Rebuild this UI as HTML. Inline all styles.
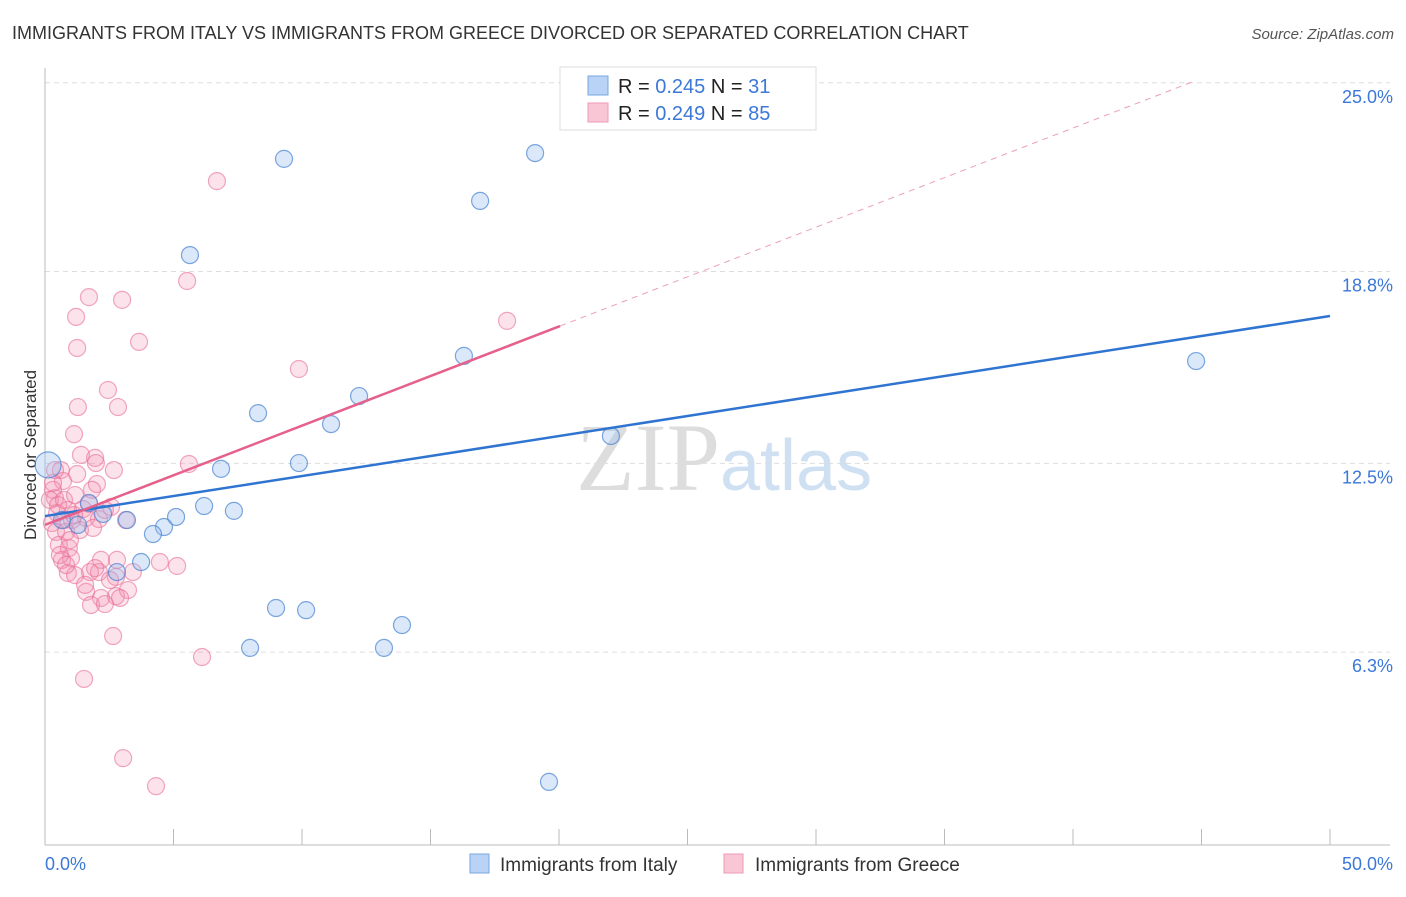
<!DOCTYPE html>
<html><head><meta charset="utf-8"><style>
body{margin:0;background:#fff;font-family:"Liberation Sans",sans-serif}
#wrap{position:relative;width:1406px;height:892px}
</style></head><body>
<div id="wrap">
<svg id="svg" width="1406" height="892" xmlns="http://www.w3.org/2000/svg">
<text x="12" y="39" font-size="18" fill="#333">IMMIGRANTS FROM ITALY VS IMMIGRANTS FROM GREECE DIVORCED OR SEPARATED CORRELATION CHART</text>
<text x="1394" y="39" font-size="15" fill="#555" font-style="italic" text-anchor="end">Source: ZipAtlas.com</text>
<text x="36" y="455" font-size="17" fill="#333" text-anchor="middle" transform="rotate(-90 36 455)">Divorced or Separated</text>
<text x="720" y="490" font-size="96" fill="#ddd" text-anchor="end" font-family="Liberation Serif">ZIP</text>
<text x="720" y="490" font-size="72" fill="#cfe0f3">atlas</text>
<g id="grid"></g><g id="axes"></g><g id="pts"></g><g id="lines"></g>
<rect x="560" y="67" width="256" height="63" fill="#fff" stroke="#ddd"/>
<rect x="588" y="76" width="20" height="19" fill="#b8d3f5" stroke="#7aa7e0"/>
<rect x="588" y="103" width="20" height="19" fill="#f9c6d6" stroke="#ee9ab5"/>
<text x="618" y="93" font-size="20" fill="#222">R = <tspan fill="#3b78d8">0.245</tspan>   N =  <tspan fill="#3b78d8">31</tspan></text>
<text x="618" y="120" font-size="20" fill="#222">R = <tspan fill="#3b78d8">0.249</tspan>   N = <tspan fill="#3b78d8">85</tspan></text>
<rect x="470" y="854" width="19" height="19" fill="#b8d3f5" stroke="#7aa7e0"/>
<text x="500" y="871" font-size="19" fill="#333">Immigrants from Italy</text>
<rect x="724" y="854" width="19" height="19" fill="#f9c6d6" stroke="#ee9ab5"/>
<text x="755" y="871" font-size="19" fill="#333">Immigrants from Greece</text>
</svg></div>
<script>
const yTicks=[25.0,18.8,12.5,6.3];
const yTickLabels=["25.0%","18.8%","12.5%","6.3%"];
const xTickLabels=["0.0%","50.0%"];
const italyX=[9.30,19.07,16.93,5.64,16.30,44.79,12.22,8.29,11.13,22.02,9.88,6.85,1.71,6.19,7.35,2.26,3.19,5.10,4.63,4.20,3.74,2.80,8.99,10.16,13.89,7.98,13.19,19.61,0.12,1.28,0.66];
const italyY=[22.50,22.69,21.12,19.34,16.03,15.86,14.71,14.15,13.79,13.40,12.51,12.32,11.20,11.10,10.94,10.84,10.64,10.74,10.41,10.18,9.26,8.93,7.75,7.68,7.19,6.44,6.44,2.04,12.45,10.48,10.64];
const greeceX=[6.69,5.53,1.71,3.00,17.98,1.21,3.66,1.25,9.88,2.45,1.28,2.84,1.13,1.40,1.95,1.98,5.60,0.62,2.68,1.25,2.02,0.70,0.31,0.39,1.71,2.57,0.89,1.48,0.47,0.74,1.60,2.10,3.15,0.27,0.43,0.82,0.54,0.93,0.66,1.01,2.18,2.80,4.47,5.14,0.89,1.75,1.17,2.10,2.76,3.42,1.60,2.76,2.18,1.79,2.33,2.65,6.11,1.52,3.04,4.32,0.31,0.19,0.51,1.05,1.36,1.87,0.97,0.58,1.95,2.53,1.56,3.23,0.82,1.13,2.33,0.39,2.92,1.83,0.74,1.17];
const greeceY=[21.77,18.49,17.96,17.87,17.18,17.31,16.49,16.29,15.60,14.91,14.35,14.35,13.46,12.78,12.68,12.51,12.48,12.28,12.28,12.15,11.82,11.92,11.63,11.36,11.17,11.07,10.97,11.00,10.87,10.64,10.71,10.67,10.64,10.54,10.25,10.25,9.82,9.72,9.33,9.39,9.33,9.33,9.26,9.13,8.90,8.93,8.83,8.93,8.77,8.93,8.28,8.14,8.08,7.85,7.88,6.83,6.14,5.42,2.82,1.90,11.86,11.30,11.13,10.64,10.31,10.38,9.98,9.49,9.06,8.67,8.51,8.34,9.16,10.80,10.97,12.28,8.08,11.63,11.30,11.46];
const italyTrend=[10.77,17.34];
const greeceTrend=[10.48,17.01,20.04];
const X=v=>45+v*25.7, Y=v=>844-v*30.45, NS="http://www.w3.org/2000/svg";
function mk(p,t,a){const e=document.createElementNS(NS,t);for(const k in a)e.setAttribute(k,a[k]);p.appendChild(e);return e;}
const g=document.getElementById('grid'),ax=document.getElementById('axes'),pts=document.getElementById('pts'),ln=document.getElementById('lines');
yTicks.forEach((t,i)=>{
 const l=mk(g,'line',{x1:45,x2:1390,y1:Y(t),y2:Y(t),stroke:'#ddd','stroke-dasharray':'5,4'});
 
 
 const tx=mk(g,'text',{x:1393,y:Y(t)+20,'font-size':18,fill:'#3b78d8','text-anchor':'end'});tx.textContent=yTickLabels[i];
 
 
});
mk(ax,'line',{x1:45,x2:45,y1:68,y2:845,stroke:'#bbb'});
mk(ax,'line',{x1:45,x2:1390,y1:845,y2:845,stroke:'#bbb'});
for(let i=0;i<=10;i++){const t=mk(ax,'line',{x1:X(i*5),x2:X(i*5),y1:829,y2:845,stroke:'#bbb'});
 
 }
const xl0=mk(ax,'text',{x:45,y:870,'font-size':18,fill:'#3b78d8'});xl0.textContent=xTickLabels[0];


const xl1=mk(ax,'text',{x:1393,y:870,'font-size':18,fill:'#3b78d8','text-anchor':'end'});xl1.textContent=xTickLabels[1];


greeceX.forEach((x,i)=>{const c=mk(pts,'circle',{cx:X(x),cy:Y(greeceY[i]),r:8.5,fill:'rgba(244,143,177,0.25)',stroke:'rgba(232,110,150,0.6)','stroke-width':1.2});
 
 });
italyX.forEach((x,i)=>{const c=mk(pts,'circle',{cx:X(x),cy:Y(italyY[i]),r:i==28?13:8.5,fill:'rgba(150,190,240,0.35)',stroke:'rgba(70,130,210,0.7)','stroke-width':1.2});
 
 });
const bt=mk(ln,'line',{x1:X(0),y1:Y(italyTrend[0]),x2:X(50),y2:Y(italyTrend[1]),stroke:'#2f74d0','stroke-width':2.5});


const s=(greeceTrend[1]-greeceTrend[0])/greeceTrend[2];
const pd=mk(ln,'line',{x1:X(greeceTrend[2]),y1:Y(greeceTrend[1]),x2:X(44.7),y2:Y(greeceTrend[0]+s*44.7),stroke:'#eaa0b8','stroke-width':1,'stroke-dasharray':'6,5'});


const pt=mk(ln,'line',{x1:X(0),y1:Y(greeceTrend[0]),x2:X(greeceTrend[2]),y2:Y(greeceTrend[1]),stroke:'#e5608a','stroke-width':2.5});


</script>
</body></html>
